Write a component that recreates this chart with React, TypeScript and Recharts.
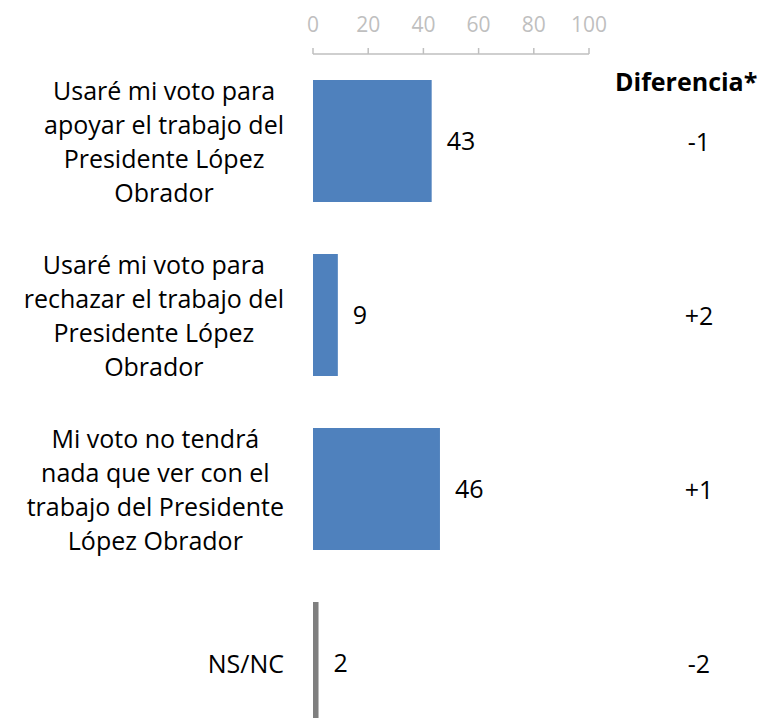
import { BarChart, Bar, XAxis, YAxis, Cell, LabelList } from 'recharts'

const categories = [
  'Usaré mi voto para\napoyar el trabajo del\nPresidente López\nObrador',
  'Usaré mi voto para\nrechazar el trabajo del\nPresidente López\nObrador',
  'Mi voto no tendrá\nnada que ver con el\ntrabajo del Presidente\nLópez Obrador',
  'NS/NC',
]
const values = [43, 9, 46, 2]
const differences = ['-1', '+2', '+1', '-2']
const barColors = ['#4f81bd', '#4f81bd', '#4f81bd', '#7f7f7f']
const xTicks = [0, 20, 40, 60, 80, 100]

const data = categories.map((name, i) => ({
  name,
  value: values[i],
  diff: differences[i],
}))

const FONT = '"Open Sans", "Noto Sans", sans-serif'
const FONT_SIZE = 25
const LINE_H = 33.7

let ctx: CanvasRenderingContext2D | null = null
function textWidth(s: string) {
  if (!ctx) ctx = document.createElement('canvas').getContext('2d')
  if (!ctx) return s.length * 11
  ctx.font = `${FONT_SIZE}px ${FONT}`
  return ctx.measureText(s).width
}

// multi-line category label, block right-aligned and lines centred (Excel style)
function CategoryTick({ x, y, payload }: any) {
  const lines = String(payload.value).split('\n')
  const blockW = Math.max(...lines.map(textWidth))
  const cx = x - blockW / 2
  return (
    <g>
      {lines.map((line, i) => (
        <text
          key={i}
          x={cx}
          y={y + (i - (lines.length - 1) / 2) * LINE_H}
          textAnchor="middle"
          dominantBaseline="central"
          fill="#000"
          fontSize={FONT_SIZE}
          fontFamily={FONT}
        >
          {line}
        </text>
      ))}
    </g>
  )
}

function DiffTick({ x, y, payload }: any) {
  const row = data.find((d) => d.name === payload.value)
  return (
    <text
      x={x + 110}
      y={y}
      textAnchor="middle"
      dominantBaseline="central"
      fill="#000"
      fontSize={FONT_SIZE}
      fontFamily={FONT}
    >
      {row ? row.diff : ''}
    </text>
  )
}

function ValueTick({ x, y, payload }: any) {
  return (
    <text x={x} y={y} textAnchor="middle" fill="#bfbfbf" fontSize={21} fontFamily={FONT}>
      {payload.value}
    </text>
  )
}

export default function App() {
  return (
    <div
      style={{
        position: 'absolute',
        top: 0,
        left: 0,
        width: 762,
        height: 718,
        overflow: 'hidden',
        background: '#fff',
      }}
    >
      <BarChart
        width={762}
        height={750}
        data={data}
        layout="vertical"
        margin={{ top: 0, right: 0, bottom: 0, left: 0 }}
      >
        <XAxis
          type="number"
          orientation="top"
          domain={[0, 100]}
          ticks={xTicks}
          height={54}
          tickSize={6}
          tickMargin={16}
          axisLine={{ stroke: '#bfbfbf', strokeWidth: 1.5 }}
          tickLine={{ stroke: '#bfbfbf', strokeWidth: 1.5 }}
          tick={<ValueTick />}
        />
        <YAxis
          yAxisId="left"
          type="category"
          dataKey="name"
          width={313}
          axisLine={false}
          tickLine={false}
          tickSize={0}
          tickMargin={29}
          tick={<CategoryTick />}
          interval={0}
        />
        <YAxis
          yAxisId="right"
          type="category"
          dataKey="name"
          orientation="right"
          width={173}
          axisLine={false}
          tickLine={false}
          tickSize={0}
          tickMargin={0}
          tick={<DiffTick />}
          interval={0}
        />
        <Bar yAxisId="left" dataKey="value" barSize={122} isAnimationActive={false}>
          {data.map((_, i) => (
            <Cell key={`cell-${i}`} fill={barColors[i]} />
          ))}
          <LabelList
            dataKey="value"
            position="right"
            offset={15}
            fill="#000"
            fontSize={FONT_SIZE}
            fontFamily={FONT}
          />
        </Bar>
      </BarChart>
      <div
        style={{
          position: 'absolute',
          left: 615,
          top: 66,
          fontFamily: FONT,
          fontSize: FONT_SIZE,
          fontWeight: 'bold',
          color: '#000',
          lineHeight: '30px',
          whiteSpace: 'nowrap',
        }}
      >
        Diferencia*
      </div>
    </div>
  )
}
